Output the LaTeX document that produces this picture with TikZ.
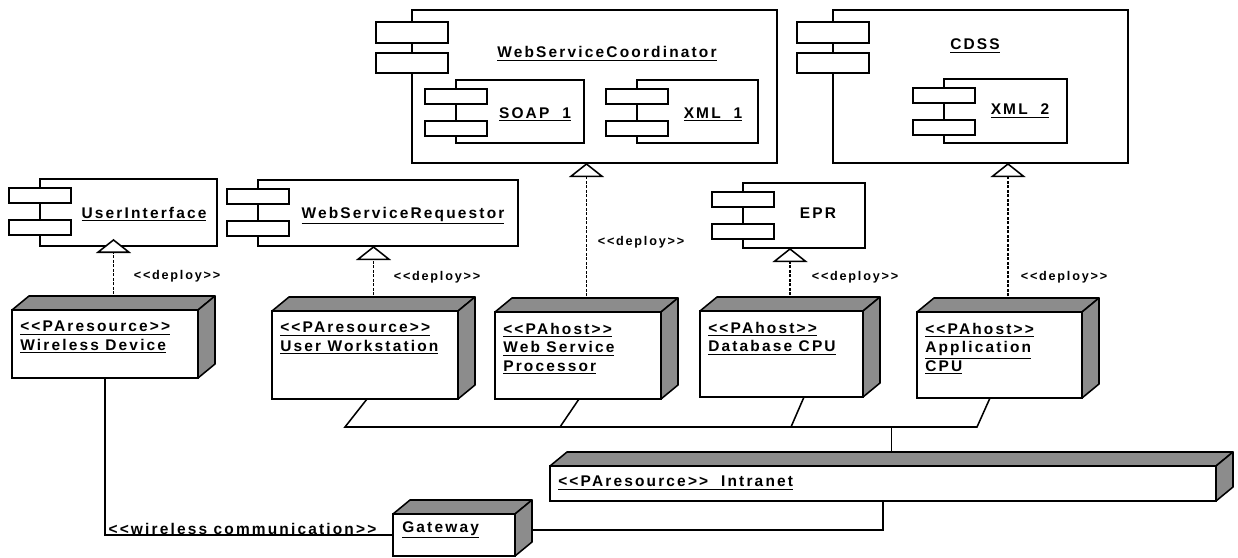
\documentclass[tikz,border=0pt]{standalone}
\usepackage{fontspec}
\newfontfamily\umlfont{Liberation Sans}[LetterSpace=14]
\usetikzlibrary{calc,fit,arrows.meta}
\tikzset{
  comp/.style={draw, line width=1.1pt, fill=white, inner sep=0pt, outer sep=0pt},
  comptab/.style={draw, line width=1.1pt, fill=white},
  hw/.style={draw, line width=1.1pt, fill=white, inner sep=0pt, outer sep=0pt},
  hwdepth/.style={draw, line width=1.1pt, fill=black!45, line join=round},
  compname/.style={font=\umlfont\bfseries\fontsize{11}{13}\selectfont, inner sep=0pt, anchor=base},
  hwtext/.style={font=\umlfont\bfseries\fontsize{11}{13}\selectfont, inner sep=0pt, anchor=north west, align=left},
  deploylbl/.style={font=\umlfont\bfseries\fontsize{9}{11}\selectfont, inner sep=0pt},
  commlbl/.style={font=\umlfont\bfseries\fontsize{11}{13}\selectfont, inner sep=0pt},
  deploy/.style={line width=0.8pt, dash pattern=on 2pt off 1.2pt,
    -{Triangle[width=25pt, length=10pt, fill=white, line width=1.1pt]}},
  link/.style={line width=1.1pt},
}
\begin{document}
\begin{tikzpicture}[x=0.025cm, y=-0.025cm]
\useasboundingbox (0,0) rectangle (1238,558);

% components
\node[comp, fit={(412,10) (777,163)}] (wsc) {};
\node[comp, fit={(456,80) (584,143)}] (soap) {};
\node[comp, fit={(637,80) (758,143)}] (xmla) {};
\node[comp, fit={(833,10) (1128,163)}] (cdss) {};
\node[comp, fit={(944,79) (1067,143)}] (xmlb) {};
\node[comp, fit={(40,179) (217,246)}] (ui) {};
\node[comp, fit={(258,180) (518,246)}] (wsr) {};
\node[comp, fit={(743,183) (865,248)}] (epr) {};

% tabs
\foreach \c in {ui,wsr,epr,soap,xmla,xmlb} {
  \draw[comptab] ($(\c.north west)+(-31,9)$) rectangle ++(62,15);
  \draw[comptab] ($(\c.north west)+(-31,41)$) rectangle ++(62,15);
}
\foreach \c in {wsc,cdss} {
  \draw[comptab] ($(\c.north west)+(-36,12)$) rectangle ++(72,21);
  \draw[comptab] ($(\c.north west)+(-36,43)$) rectangle ++(72,20);
}

\node[compname] (wsc-t) at (607,58) {\underline{WebServiceCoordinator}};
\node[compname] (soap-t) at (535,118) {\underline{SOAP\ \ 1}};
\node[compname] (xmla-t) at (713,118) {\underline{XML\ \ 1}};
\node[compname] (cdss-t) at (975,50) {\underline{CDSS}};
\node[compname] (xmlb-t) at (1020,115) {\underline{XML\ \ 2}};
\node[compname] (ui-t) at (144,218) {\underline{UserInterface}};
\node[compname] (wsr-t) at (403,218) {\underline{WebServiceRequestor}};
\node[compname] (epr-t) at (818,218) {EPR};

% hardware nodes
\node[hw, fit={(12,310) (198,378)}] (wd) {};
\node[hw, fit={(272,311) (458,399)}] (uw) {};
\node[hw, fit={(495,312) (661,399)}] (wsp) {};
\node[hw, fit={(700,311) (863,397)}] (db) {};
\node[hw, fit={(917,312) (1082,398)}] (app) {};
\node[hw, fit={(550,466) (1216,501)}] (intra) {};
\node[hw, fit={(393,514) (515,556)}] (gw) {};

\node[hwtext] (wd-t) at ($(wd.north west)+(8,11)$) {\underline{<<PAresource>>}\\\underline{Wireless Device}};
\node[hwtext] (uw-t) at ($(uw.north west)+(8,11)$) {\underline{<<PAresource>>}\\\underline{User Workstation}};
\node[hwtext] (wsp-t) at ($(wsp.north west)+(8,11)$) {\underline{<<PAhost>>}\\\underline{Web Service}\\\underline{Processor}};
\node[hwtext] (db-t) at ($(db.north west)+(8,11)$) {\underline{<<PAhost>>}\\\underline{Database CPU}};
\node[hwtext] (app-t) at ($(app.north west)+(8,11)$) {\underline{<<PAhost>>}\\\underline{Application}\\\underline{CPU}};
\node[hwtext] (intra-t) at ($(intra.north west)+(8,10)$) {\underline{<<PAresource>>\ \ Intranet}};
\node[hwtext] (gw-t) at ($(gw.north west)+(9,7)$) {\underline{Gateway}};

% deploy
\foreach \hw/\sw/\sh in {wd/ui/-5pt, uw/wsr/0pt, wsp/wsc/0pt, db/epr/0pt, app/cdss/0pt} {
  \coordinate (\hw-top) at ($(\hw.north)+(8.5,-7)$);
  \draw[deploy, shorten >=\sh] (\hw-top) -- (\hw-top |- \sw.south);
}
\node[deploylbl] (ui-d) at (177,276) {<<deploy>>};
\node[deploylbl] (wsr-d) at (437,277) {<<deploy>>};
\node[deploylbl] (wsc-d) at (641,242) {<<deploy>>};
\node[deploylbl] (epr-d) at (855,277) {<<deploy>>};
\node[deploylbl] (cdss-d) at (1064,277) {<<deploy>>};

% bus
\coordinate (intra-top) at ($(intra.north)+(8.5,-7)$);
\coordinate (bus-w) at (345,427);
\coordinate (bus-e) at (977,427);
\coordinate (bus-a) at (560,427);
\coordinate (bus-b) at (791,427);
\draw[link] ($(uw.south west)+(95,0)$) -- (bus-w) -- (bus-e) -- ($(app.south west)+(73,0)$);
\draw[link] ($(wsp.south west)+(84,0)$) -- (bus-a);
\draw[link] ($(db.south west)+(104,0)$) -- (bus-b);
\draw[link] (intra-top |- bus-w) -- (intra-top);

\draw[link] (wd.south) |- node[commlbl, pos=0.5, anchor=south west, xshift=2pt] (wc-t) {<<wireless communication>>} (gw.west);
\draw[link] ($(gw.east)+(0,-5)$) -| (intra.south);

% depth faces
\foreach \n in {wd,uw,wsp,db,app,intra,gw} {
  \draw[hwdepth] (\n.north west) -- ++(17,-14) -- ($(\n.north east)+(17,-14)$) -- (\n.north east) -- cycle;
  \draw[hwdepth] (\n.north east) -- ++(17,-14) -- ($(\n.south east)+(17,-14)$) -- (\n.south east) -- cycle;
}

\end{tikzpicture}
\end{document}
